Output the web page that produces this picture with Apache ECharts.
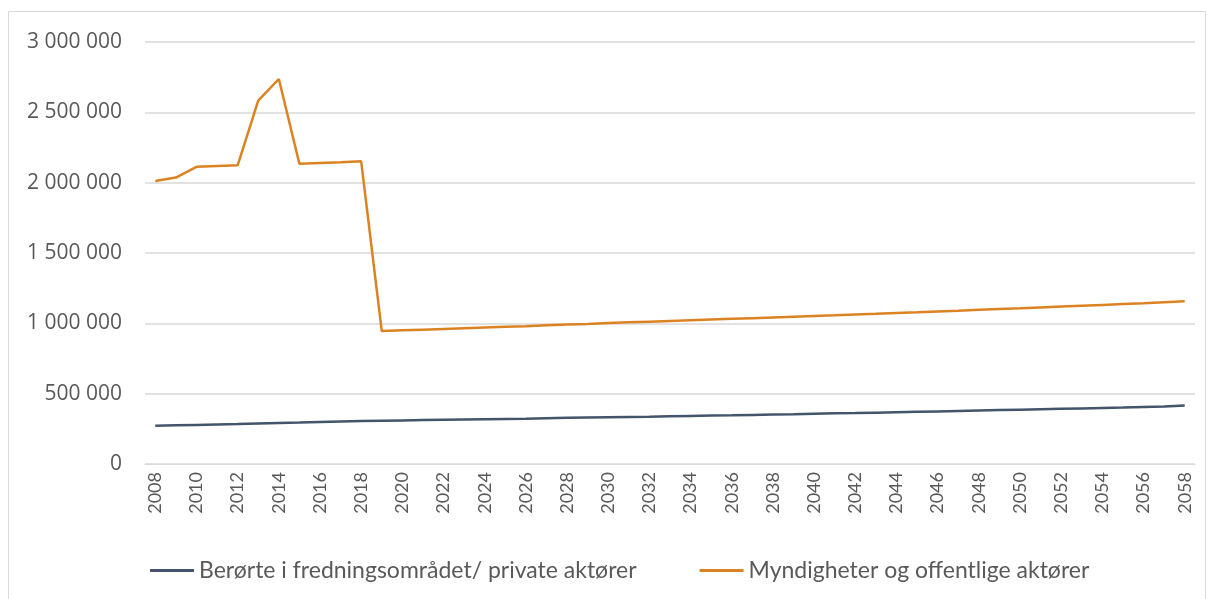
<!DOCTYPE html>
<html>
<head>
<meta charset="utf-8">
<script src="https://cdn.jsdelivr.net/npm/echarts@6/dist/echarts.min.js"></script>
<style>
  html, body { margin: 0; padding: 0; background: #fff; }
  #chart { width: 1211px; height: 599px; }
</style>
</head>
<body>
<div id="chart"></div>
<script>
var years = [];
for (var y = 2008; y <= 2058; y++) years.push(String(y));

var seriesNames = ['Berørte i fredningsområdet/ private aktører', 'Myndigheter og offentlige aktører'];

var privat = [
  272000, 275000, 278000, 281000, 284000, 288000, 292000, 295000, 299000, 303000,
  306000, 308000, 310000, 312000, 314000, 316000, 318000, 320000, 322000, 325000,
  328000, 330000, 332000, 334000, 336000, 339000, 342000, 344000, 346000, 349000,
  352000, 354000, 357000, 360000, 362000, 365000, 368000, 371000, 374000, 377000,
  380000, 383000, 386000, 389000, 392000, 395000, 398000, 401000, 405000, 409000,
  415000
];

var offentlig = [
  2012000, 2036000, 2113000, 2118000, 2123000, 2583000, 2737000, 2135000, 2140000, 2145000,
  2152000, 945000, 950000, 955000, 960000, 965000, 970000, 975000, 980000, 986000,
  991000, 996000, 1002000, 1007000, 1012000, 1017000, 1022000, 1027000, 1032000, 1037000,
  1042000, 1047000, 1052000, 1057000, 1063000, 1068000, 1074000, 1079000, 1085000, 1090000,
  1096000, 1102000, 1107000, 1113000, 1119000, 1125000, 1131000, 1137000, 1143000, 1150000,
  1157000
];

var colors = ['#44546A', '#DB8322'];

function fmt(v) {
  return String(v).replace(/\B(?=(\d{3})+(?!\d))/g, ' ');
}

var chart = echarts.init(document.getElementById('chart'));
chart.setOption({
  animation: false,
  color: colors,
  textStyle: { fontFamily: 'Lato, sans-serif' },
  graphic: [{
    type: 'rect',
    shape: { x: 8.5, y: 11.5, width: 1197, height: 600 },
    style: { fill: 'none', stroke: '#d9d9d9', lineWidth: 1 },
    silent: true
  }],
  grid: { left: 145, right: 16, top: 42, bottom: 135 },
  legend: {
    data: seriesNames,
    top: 554,
    left: 145,
    icon: 'rect',
    itemWidth: 44,
    itemHeight: 3,
    itemGap: 63,
    textStyle: { color: '#595959', fontSize: 23, fontFamily: 'Lato' }
  },
  xAxis: {
    type: 'category',
    data: years,
    boundaryGap: true,
    axisTick: { show: false },
    axisLine: { lineStyle: { color: '#d9d9d9', width: 1 } },
    axisLabel: { interval: 1, rotate: 90, color: '#595959', fontSize: 18, fontFamily: 'Lato', margin: 8 }
  },
  yAxis: {
    type: 'value',
    min: 0,
    max: 3000000,
    interval: 500000,
    axisLine: { show: false },
    axisTick: { show: false },
    splitLine: { lineStyle: { color: '#d9d9d9', width: 1.5 } },
    axisLabel: { color: '#595959', fontSize: 21, fontFamily: 'Open Sans', margin: 23, formatter: fmt }
  },
  series: [
    { name: seriesNames[0], type: 'line', data: privat, symbol: 'none', lineStyle: { width: 2.5 } },
    { name: seriesNames[1], type: 'line', data: offentlig, symbol: 'none', lineStyle: { width: 2.5 } }
  ]
});
</script>
</body>
</html>
